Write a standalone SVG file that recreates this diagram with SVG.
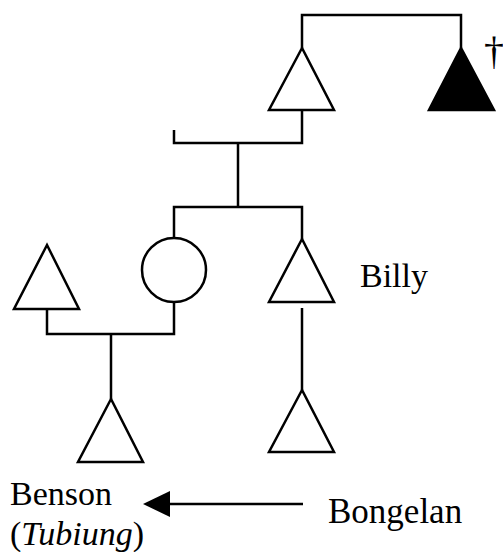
<svg xmlns="http://www.w3.org/2000/svg" width="503" height="552" viewBox="0 0 503 552">
<style>
.s{fill:#fff;stroke:#000;stroke-width:2.5}
.f{fill:#000;stroke:#000;stroke-width:2.5}
.c{fill:none;stroke:#000;stroke-width:2.5}
.t{font-family:'Liberation Serif','Times New Roman','DejaVu Serif',serif;font-size:34px;fill:#000}
</style>
<g id="connectors">
<polyline class="c" points="302,48 302,15 461,15 461,48"/>
<polyline class="c" points="302,110 302,143 174,143 174,130"/>
<line class="c" x1="238" y1="143" x2="238" y2="207"/>
<polyline class="c" points="174,238 174,207 302,207 302,239"/>
<polyline class="c" points="47,309 47,334 174,334 174,302"/>
<line class="c" x1="111" y1="334" x2="111" y2="399"/>
<line class="c" x1="302" y1="308" x2="302" y2="390"/>
<line class="c" x1="303" y1="504" x2="168" y2="504"/>
<polygon points="143,504 170,491 170,517" fill="#000"/>
</g>
<g id="father"><polygon class="s" points="302,48 269,110 334,110"/></g>
<g id="grandfather"><polygon class="f" points="461,48 429,110 494,110"/><text class="t" x="494" y="64" text-anchor="middle" style="font-size:40px">†</text></g>
<g id="mother"><circle class="s" cx="174" cy="270" r="32"/></g>
<g id="husband"><polygon class="s" points="47,245 14,309 79,309"/></g>
<g id="billy"><polygon class="s" points="302,239 269,302 334,302"/><text class="t" x="360" y="287">Billy</text></g>
<g id="benson"><polygon class="s" points="111,399 78,462 143,462"/><text class="t" x="10" y="505">Benson</text><text class="t" x="10" y="545">(<tspan font-style="italic">Tubiung</tspan>)</text></g>
<g id="bongelan"><polygon class="s" points="302,390 269,452 334,452"/><text class="t" x="328" y="523" style="font-size:35px">Bongelan</text></g>
</svg>
